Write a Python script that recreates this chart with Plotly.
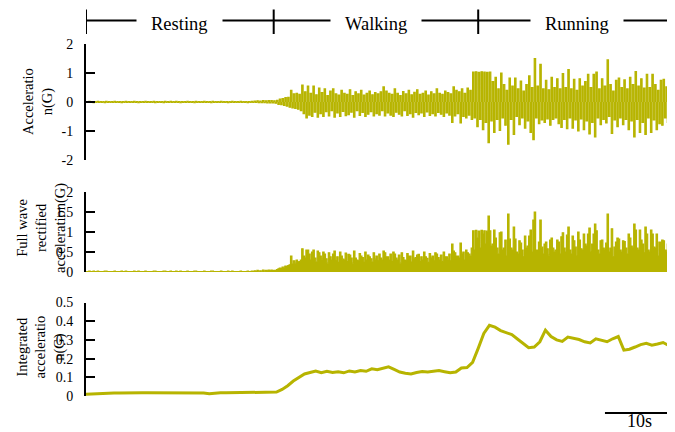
import plotly.graph_objects as go

# ---------------- data ----------------
SAMPLE_INTERVAL_S = 0.2        # raw acceleration sampling step
INTEGRATED_INTERVAL_S = 0.8    # integrated signal step

phase_labels = ["Resting", "Walking", "Running"]
phase_starts_s = [0.0, 26.8, 56.0]
record_end_s = 84.1
scale_bar_s = 10
scale_bar_label = "10s"

accel_ticks = [-2, -1, 0, 1, 2]
accel_ticklabels = ["-2", "-1", "0", "1", "2"]
rect_ticks = [0, 0.5, 1, 1.5, 2]
rect_ticklabels = ["0", "0.5", "1", "1.5", "2"]
integ_ticks = [0, 0.1, 0.2, 0.3, 0.4, 0.5]
integ_ticklabels = ["0", "0.1", "0.2", "0.3", "0.4", "0.5"]

# raw acceleration (G), one value every 0.2 s (peak / trough pairs)
accel = [
    # resting (0 - 26.8 s)
    0.01, -0.01, 0.02, -0.01, 0.01, -0.02, 0.01, -0.01, 0.02, -0.01,
    0.01, -0.01, 0.01, -0.02, 0.02, -0.01, 0.01, -0.01, 0.01, -0.01,
    0.02, -0.01, 0.01, -0.01, 0.01, -0.02, 0.01, -0.01, 0.02, -0.01,
    0.01, -0.01, 0.01, -0.01, 0.02, -0.01, 0.01, -0.02, 0.01, -0.01,
    0.01, -0.01, 0.02, -0.01, 0.01, -0.01, 0.01, -0.01, 0.02, -0.02,
    0.01, -0.01, 0.01, -0.01, 0.01, -0.02, 0.02, -0.01, 0.01, -0.01,
    0.02, -0.01, 0.01, -0.01, 0.02, -0.01, 0.01, -0.02, 0.01, -0.01,
    0.01, -0.01, 0.02, -0.01, 0.01, -0.01, 0.01, -0.02, 0.02, -0.01,
    0.01, -0.01, 0.01, -0.01, 0.02, -0.01, 0.01, -0.01, 0.01, -0.02,
    0.02, -0.01, 0.01, -0.01, 0.01, -0.01, 0.02, -0.01, 0.01, -0.01,
    0.01, -0.02, 0.01, -0.01, 0.02, -0.01, 0.01, -0.01, 0.01, -0.01,
    0.02, -0.01, 0.01, -0.01, 0.01, -0.02, 0.01, -0.01, 0.02, -0.01,
    0.03, -0.01, 0.04, -0.02, 0.03, -0.02, 0.05, -0.02, 0.04, -0.03,
    0.05, -0.03, 0.05, -0.03,
    # walking (26.8 - 55.2 s)
    0.04, -0.04, 0.06, -0.08, 0.10, -0.09, 0.12, -0.12, 0.15, -0.14,
    0.16, -0.18, 0.40, -0.20, 0.28, -0.22, 0.30, -0.25, 0.26, -0.30,
    0.58, -0.40, 0.35, -0.55, 0.55, -0.45, 0.30, -0.50, 0.55, -0.35,
    0.25, -0.52, 0.48, -0.40, 0.32, -0.50, 0.45, -0.33, 0.22, -0.48,
    0.38, -0.30, 0.45, -0.52, 0.28, -0.38, 0.24, -0.50, 0.40, -0.32,
    0.30, -0.47, 0.26, -0.44, 0.42, -0.35, 0.22, -0.52, 0.35, -0.30,
    0.28, -0.46, 0.40, -0.36, 0.24, -0.50, 0.30, -0.42, 0.38, -0.33,
    0.25, -0.48, 0.32, -0.40, 0.28, -0.45, 0.35, -0.30, 0.52, -0.48,
    0.38, -0.38, 0.30, -0.45, 0.26, -0.50, 0.45, -0.35, 0.30, -0.42,
    0.22, -0.48, 0.36, -0.30, 0.28, -0.46, 0.40, -0.40, 0.25, -0.52,
    0.33, -0.36, 0.42, -0.44, 0.26, -0.38, 0.30, -0.50, 0.38, -0.34,
    0.24, -0.46, 0.35, -0.40, 0.28, -0.48, 0.45, -0.36, 0.30, -0.42,
    0.26, -0.50, 0.38, -0.38, 0.32, -0.45, 0.28, -0.70, 0.52, -0.48,
    0.40, -0.40, 0.35, -0.72, 0.45, -0.50, 0.30, -0.55, 0.48, -0.45,
    0.40, -0.60,
    # running (55.2 - 84.2 s)
    1.03, -0.55, 1.04, -0.85, 1.02, -0.60, 1.04, -0.95, 1.03, -0.70,
    1.02, -1.40, 1.03, -0.65, 0.70, -1.05, 0.85, -0.60, 0.45, -0.98,
    1.00, -0.55, 0.60, -0.80, 0.40, -1.45, 0.82, -0.60, 0.55, -1.12,
    0.82, -0.50, 0.45, -0.78, 0.72, -0.55, 0.38, -0.90, 0.60, -0.65,
    0.90, -1.05, 0.50, -1.30, 1.50, -0.55, 0.55, -0.75, 1.30, -0.62,
    0.45, -0.70, 0.75, -0.58, 0.42, -0.80, 0.85, -0.60, 0.50, -0.55,
    0.80, -0.75, 0.45, -0.88, 0.98, -0.60, 0.50, -0.92, 1.12, -0.55,
    0.45, -0.90, 0.78, -0.62, 0.40, -1.00, 0.80, -0.58, 0.55, -0.95,
    0.70, -0.65, 0.95, -1.10, 0.50, -0.70, 0.95, -1.20, 1.03, -0.55,
    0.45, -0.78, 0.80, -0.60, 0.55, -0.72, 1.45, -0.50, 0.60, -1.08,
    0.38, -0.62, 0.75, -0.85, 0.82, -0.55, 0.50, -0.78, 0.76, -0.60,
    0.45, -0.95, 0.85, -0.65, 0.60, -1.20, 1.05, -0.60, 0.55, -1.05,
    0.80, -0.70, 0.48, -1.12, 0.95, -0.55, 0.50, -1.05, 0.95, -0.62,
    0.60, -0.95, 0.40, -0.75, 0.75, -0.80, 0.78, -0.55, 0.52, -0.70,
    0.95, -0.62, 0.50, -0.85, 0.80, -0.60,
]

# integrated acceleration (G), one value every 0.8 s
integrated = [
    0.010, 0.012, 0.014, 0.016, 0.016, 0.016, 0.016, 0.017, 0.017, 0.017,
    0.017, 0.017, 0.017, 0.017, 0.017, 0.017, 0.017, 0.017, 0.017, 0.017,
    0.017, 0.016, 0.012, 0.016, 0.017, 0.017, 0.017, 0.017, 0.017, 0.017,
    0.017, 0.017, 0.017, 0.017, 0.021, 0.035, 0.055, 0.080, 0.098, 0.118,
    0.126, 0.134, 0.125, 0.132, 0.126, 0.130, 0.124, 0.134, 0.128, 0.136,
    0.132, 0.145, 0.140, 0.150, 0.156, 0.142, 0.128, 0.122, 0.118, 0.126,
    0.131, 0.128, 0.134, 0.136, 0.130, 0.124, 0.128, 0.150, 0.152, 0.180,
    0.255, 0.335, 0.378, 0.368, 0.350, 0.340, 0.328, 0.305, 0.280, 0.258,
    0.262, 0.290, 0.352, 0.318, 0.300, 0.292, 0.315, 0.308, 0.302, 0.290,
    0.284, 0.306, 0.298, 0.290, 0.306, 0.318, 0.245, 0.250, 0.262, 0.275,
    0.282, 0.272, 0.278, 0.286, 0.270, 0.262,
]

# full-wave rectification of the raw signal
rectified = [abs(v) for v in accel]
accel_t = [i * SAMPLE_INTERVAL_S for i in range(len(accel))]
integ_t = [i * INTEGRATED_INTERVAL_S for i in range(len(integrated))]

# ---------------- styling ----------------
PAGE_OFFSET = 8                # the page body margin that shifts the figure
WIN_W, WIN_H = 675, 432
W, H = WIN_W - PAGE_OFFSET, WIN_H - PAGE_OFFSET
AXIS_PX = 86                   # y-axis position in window pixels
L = AXIS_PX - PAGE_OFFSET
COLOR = "#B7B400"
SERIF = "Times New Roman, Liberation Serif, serif"


def fy(py):
    """window pixel row -> paper y"""
    return 1 - (py - PAGE_OFFSET) / H


def fx(px):
    """window pixel column -> paper x"""
    return (px - AXIS_PX) / (W - L)


fig = go.Figure()
fig.add_trace(go.Scatter(x=accel_t, y=accel, mode="lines", line=dict(color=COLOR, width=1.2, shape="hv"),
                         fill="tozeroy", fillcolor=COLOR, xaxis="x", yaxis="y", hoverinfo="skip"))
fig.add_trace(go.Scatter(x=accel_t, y=rectified, mode="lines", line=dict(color=COLOR, width=1.2, shape="hv"),
                         fill="tozeroy", fillcolor=COLOR, xaxis="x2", yaxis="y2", hoverinfo="skip"))
fig.add_trace(go.Scatter(x=integ_t, y=integrated, mode="lines", line=dict(color=COLOR, width=3),
                         xaxis="x3", yaxis="y3", hoverinfo="skip"))

yax = dict(showline=True, linecolor="black", linewidth=2, ticks="inside", ticklen=9, tickwidth=2,
           tickcolor="black", tickfont=dict(family=SERIF, size=14, color="black"), showgrid=False,
           zeroline=False, ticklabelstandoff=8, automargin=False)
xax = dict(range=[0, record_end_s], domain=[0, 1], showline=False, showticklabels=False, ticks="",
           showgrid=False, zeroline=False, automargin=False)

fig.update_layout(
    template="none",
    width=W, height=H, margin=dict(l=L, r=0, t=0, b=0, pad=0), autosize=False,
    font=dict(family=SERIF, color="black"),
    paper_bgcolor="white", plot_bgcolor="white", showlegend=False,
    xaxis=dict(xax, anchor="y"),
    xaxis2=dict(xax, anchor="y2"),
    xaxis3=dict(xax, anchor="y3"),
    yaxis=dict(yax, domain=[fy(160), fy(44)], range=[-2, 2], tickvals=accel_ticks,
               ticktext=accel_ticklabels, anchor="x"),
    yaxis2=dict(yax, domain=[fy(272), fy(192)], range=[0, 2], tickvals=rect_ticks,
                ticktext=rect_ticklabels, anchor="x2"),
    yaxis3=dict(yax, domain=[fy(396), fy(302.5)], range=[0, 0.5], tickvals=integ_ticks,
                ticktext=integ_ticklabels, anchor="x3"),
)

shapes = []
annotations = []

# header: phase bar
header_y = fy(20.5)
shapes.append(dict(type="line", xref="x", yref="paper", x0=0, x1=record_end_s, y0=header_y, y1=header_y,
                   line=dict(color="black", width=2)))
for s in phase_starts_s:
    shapes.append(dict(type="line", xref="x", yref="paper", x0=s, x1=s, y0=fy(34), y1=fy(9.5),
                       line=dict(color="black", width=2)))
bounds = phase_starts_s + [record_end_s]
for i, lab in enumerate(phase_labels):
    mid = (bounds[i] + bounds[i + 1]) / 2
    annotations.append(dict(text=lab, xref="x", yref="paper", x=mid, y=fy(24), xanchor="center",
                            yanchor="middle", showarrow=False, bgcolor="white", borderpad=14,
                            font=dict(family=SERIF, size=18.5, color="black")))

# y-axis titles
titles = [
    ("Acceleratio<br>n(G)", 38, 102),
    ("Full wave<br>rectified<br>acceleration(G)", 41, 228),
    ("Integrated<br>acceleratio<br>n(G)", 40.5, 347),
]
for txt, px, py in titles:
    annotations.append(dict(text=txt, xref="paper", yref="paper", x=fx(px), y=fy(py), xanchor="center",
                            yanchor="middle", textangle=-90, showarrow=False,
                            font=dict(family=SERIF, size=14.5, color="black")))

# scale bar
sb0 = record_end_s - scale_bar_s
shapes.append(dict(type="line", xref="x3", yref="paper", x0=sb0, x1=record_end_s, y0=fy(413), y1=fy(413),
                   line=dict(color="black", width=2)))
annotations.append(dict(text=scale_bar_label, xref="x3", yref="paper", x=(sb0 + record_end_s) / 2,
                        y=fy(421), xanchor="center", yanchor="middle", showarrow=False,
                        font=dict(family=SERIF, size=18, color="black")))

fig.update_layout(shapes=shapes, annotations=annotations)
fig.write_html("out.html")
